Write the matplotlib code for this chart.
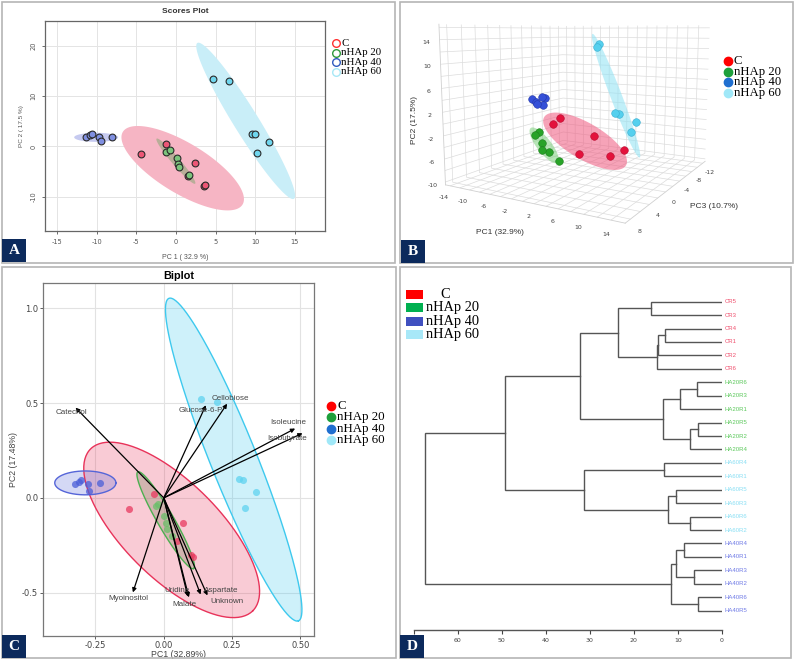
import matplotlib
matplotlib.use('Agg')
import matplotlib.pyplot as plt
import numpy as np
from matplotlib.patches import Rectangle
from matplotlib.lines import Line2D
from mpl_toolkits.mplot3d.art3d import Poly3DCollection

plt.rcParams['axes.unicode_minus'] = False
W, H = 794, 661
fig = plt.figure(figsize=(W / 100, H / 100), dpi=100)
fig.patch.set_facecolor('white')

def axes_px(l, t, r, b, **kw):
    return fig.add_axes([l / W, 1 - b / H, (r - l) / W, (b - t) / H], **kw)

def fxy(px, py):
    return px / W, 1 - py / H

SERIF = ['Liberation Serif', 'DejaVu Serif']
SANS = ['Liberation Sans', 'DejaVu Sans']
groups = ['C', 'nHAp 20', 'nHAp 40', 'nHAp 60']

# ---------------- Panel A / B data (PC scores) ----------------
PC1 = {
    'C': [-4.4, -1.2, 2.45, 1.5, 3.6, 3.7],
    'nHAp 20': [-1.2, -0.8, 0.1, 0.3, 0.35, 1.65],
    'nHAp 40': [-11.3, -10.8, -10.6, -9.7, -9.5, -8.1],
    'nHAp 60': [4.7, 6.7, 9.55, 9.95, 11.7, 10.2],
}
PC2 = {
    'C': [-1.5, 0.4, -3.3, -5.9, -7.8, -7.7],
    'nHAp 20': [-1.2, -0.7, -2.4, -3.5, -4.1, -5.6],
    'nHAp 40': [1.9, 2.3, 2.4, 1.9, 1.0, 1.9],
    'nHAp 60': [13.3, 12.9, 2.5, 2.4, 0.8, -1.3],
}
PC3 = {
    'C': [-0.4, 1.4, -1.5, 0.6, -7.3, -3.7],
    'nHAp 20': [5.9, 5.6, 5.9, 6.1, 5.0, 4.5],
    'nHAp 40': [-5.3, -2.1, -3.9, -2.0, -3.2, -0.8],
    'nHAp 60': [0.1, 2.8, 2.6, 2.4, 0.9, 0.0],
}
A_ell_center = {'C': (0.86, -4.33), 'nHAp 20': (0.0, -2.93), 'nHAp 40': (-10.05, 1.8), 'nHAp 60': (8.8, 5.07)}
A_ell_u = {'C': (7.55, -7.2), 'nHAp 20': (2.43, -4.47), 'nHAp 40': (2.77, 0.0), 'nHAp 60': (6.09, -15.47)}
A_ell_v = {'C': (-1.62, -4.29), 'nHAp 20': (-0.38, -0.52), 'nHAp 40': (0.0, 0.9), 'nHAp 60': (-1.32, -1.31)}
A_xticks = [-15, -10, -5, 0, 5, 10, 15]
A_yticks = [-10, 0, 10, 20]
B_ell_major = {'C': 1.5, 'nHAp 20': 1.6, 'nHAp 60': 1.55}
B_ell_minor = {'C': 4.0, 'nHAp 20': 2.6, 'nHAp 60': 2.6}

# ---------------- Panel C data (Biplot) ----------------
C_x = {
    'C': [-0.034, -0.126, 0.071, 0.048, 0.106, 0.100],
    'nHAp 20': [-0.02, -0.03, 0.0, 0.008, 0.012, 0.03],
    'nHAp 40': [-0.324, -0.31, -0.302, -0.277, -0.272, -0.233],
    'nHAp 60': [0.138, 0.196, 0.275, 0.289, 0.339, 0.299],
}
C_y = {
    'C': [0.018, -0.06, -0.13, -0.227, -0.311, -0.30],
    'nHAp 20': [-0.03, -0.045, -0.095, -0.135, -0.165, -0.2],
    'nHAp 40': [0.074, 0.085, 0.095, 0.074, 0.037, 0.077],
    'nHAp 60': [0.524, 0.506, 0.098, 0.093, 0.032, -0.053],
}
C_ell_center = {'C': (0.029, -0.169), 'nHAp 20': (0.007, -0.118), 'nHAp 40': (-0.287, 0.079), 'nHAp 60': (0.256, 0.202)}
C_ell_u = {'C': (0.297, -0.427), 'nHAp 20': (0.102, -0.255), 'nHAp 40': (0.112, 0.0), 'nHAp 60': (0.237, -0.851)}
C_ell_v = {'C': (0.124, 0.179), 'nHAp 20': (0.026, 0.022), 'nHAp 40': (0.0, 0.063), 'nHAp 60': (0.079, 0.046)}
loading_names = ['Catechol', 'Glucose-6-P', 'Cellobiose', 'Isoleucine', 'Isobutyrate',
                 'Myoinositol', 'Uridine', 'Malate', 'Aspartate', 'Unknown']
loading_x = [-0.323, 0.154, 0.232, 0.481, 0.508, -0.113, 0.088, 0.092, 0.135, 0.16]
loading_y = [0.476, 0.489, 0.497, 0.366, 0.341, -0.499, -0.52, -0.525, -0.51, -0.515]
label_x = [-0.337, 0.137, 0.243, 0.457, 0.45, -0.128, 0.049, 0.076, 0.21, 0.232]
label_y = [0.448, 0.462, 0.527, 0.397, 0.313, -0.532, -0.49, -0.561, -0.49, -0.548]

# ---------------- Panel D data (dendrogram) ----------------
leaves = ['CR5', 'CR3', 'CR4', 'CR1', 'CR2', 'CR6',
          'HA20R6', 'HA20R3', 'HA20R1', 'HA20R5', 'HA20R2', 'HA20R4',
          'HA60R4', 'HA60R1', 'HA60R5', 'HA60R3', 'HA60R6', 'HA60R2',
          'HA40R4', 'HA40R1', 'HA40R3', 'HA40R2', 'HA40R6', 'HA40R5']
merge_a = ['CR5', 'CR4', '#1', '#2', '#0', 'HA20R6', '#5', 'HA20R5', '#7', '#6', '#4',
           'HA60R4', 'HA60R5', 'HA60R6', '#12', '#11', '#10', 'HA40R4', 'HA40R3', '#17', 'HA40R6', '#19', '#16']
merge_b = ['CR3', 'CR1', 'CR2', 'CR6', '#3', 'HA20R3', 'HA20R1', 'HA20R2', 'HA20R4', '#8', '#9',
           'HA60R1', 'HA60R3', 'HA60R2', '#13', '#14', '#15', 'HA40R1', 'HA40R2', '#18', 'HA40R5', '#20', '#21']
merge_h = [16.1, 12.8, 14.4, 14.8, 23.5, 5.7, 9.5, 5.3, 7.1, 13.3, 32.3,
           13.1, 10.4, 7.2, 12.2, 31.3, 49.4, 8.6, 6.2, 10.4, 5.5, 11.6, 67.6]
D_xticks = [70, 60, 50, 40, 30, 20, 10, 0]
D_xticklabels = ['', '60', '50', '40', '30', '20', '10', '0']

# ---------------- colours ----------------
A_fill = {'C': '#f6b5c4', 'nHAp 20': '#b9ad98', 'nHAp 40': '#c6caf0', 'nHAp 60': '#c9eef8'}
A_pt = {'C': '#ec5676', 'nHAp 20': '#7cc47c', 'nHAp 40': '#7f8fe0', 'nHAp 60': '#6fd6ee'}
A_leg = {'C': '#ff3030', 'nHAp 20': '#2e9a3a', 'nHAp 40': '#2f5bbf', 'nHAp 60': '#a8e8f6'}
B_col = {'C': '#e3123c', 'nHAp 20': '#28a328', 'nHAp 40': '#3550d8', 'nHAp 60': '#55d0ee'}
B_edge = {'C': '#b80c30', 'nHAp 20': '#1d7f1d', 'nHAp 40': '#2438a8', 'nHAp 60': '#3aaed0'}
B_fill = {'C': '#f0587e', 'nHAp 20': '#7cd07c', 'nHAp 60': '#8ee2f4'}
B_leg = {'C': '#ff0000', 'nHAp 20': '#1ea03c', 'nHAp 40': '#1f6fd0', 'nHAp 60': '#a0e8f8'}
C_edge = {'C': '#e8335a', 'nHAp 20': '#4caf50', 'nHAp 40': '#5565d8', 'nHAp 60': '#3ec9ee'}
C_pt = {'C': '#e83a60', 'nHAp 20': '#6abf69', 'nHAp 40': '#4a5ed8', 'nHAp 60': '#5fd3f0'}
D_leg = {'C': '#ff0000', 'nHAp 20': '#00b050', 'nHAp 40': '#4050c0', 'nHAp 60': '#a8e8f8'}
D_lab = {'CR': '#f0506e', 'HA20': '#5ac85a', 'HA60': '#88dff4', 'HA40': '#6f7ae6'}

def ellipse_xy(c, u, v, n=200):
    t = np.linspace(0, 2 * np.pi, n)
    return (c[0] + u[0] * np.cos(t) + v[0] * np.sin(t),
            c[1] + u[1] * np.cos(t) + v[1] * np.sin(t))

# =============== Panel A ===============
axA = axes_px(45, 21, 325, 231)
for g in ['C', 'nHAp 60', 'nHAp 40', 'nHAp 20']:
    ex, ey = ellipse_xy(A_ell_center[g], A_ell_u[g], A_ell_v[g])
    axA.fill(ex, ey, color=A_fill[g], lw=0, zorder=1)
for g in groups:
    axA.scatter(PC1[g], PC2[g], s=24, c=A_pt[g], edgecolors='#2a2a2a', linewidths=0.8, zorder=3)
axA.set_xlim(-16.5, 18.8)
axA.set_ylim(-16.8, 24.9)
axA.set_xticks(A_xticks)
axA.set_yticks(A_yticks)
axA.grid(True, color='#e4e4e4', lw=0.7)
axA.set_axisbelow(True)
axA.tick_params(labelsize=4.8, colors='#555555', length=2.5, width=0.6)
for lab in axA.get_yticklabels():
    lab.set_rotation(90)
    lab.set_va('center')
for s in axA.spines.values():
    s.set_color('#666666')
    s.set_linewidth(0.9)
axA.set_title('Scores Plot', fontsize=6, fontweight='bold', pad=6, family=SANS, color='#333333')
axA.set_xlabel('PC 1 ( 32.9 %)', fontsize=5, color='#555555', labelpad=6, family=SANS)
axA.set_ylabel('PC 2 ( 17.5 %)', fontsize=4.6, color='#555555', labelpad=5, family=SANS)
for i, g in enumerate(groups):
    y = 43.3 + i * 9.4
    fig.add_artist(Line2D([336 / W], [1 - y / H], marker='o', ms=5.5, mfc='none',
                          mec=A_leg[g], mew=1.0, transform=fig.transFigure))
    fig.text(341 / W, 1 - y / H, g, fontsize=7.8, family=SERIF, va='center', ha='left')

# =============== Panel B (3D) ===============
axB = fig.add_axes([412.5 / W, 1 - 234.5 / H, 340 / W, 262 / H], projection='3d',
                   computed_zorder=False)
axB.patch.set_alpha(0)
for g in ['nHAp 60', 'C', 'nHAp 20']:
    P = np.c_[PC1[g], PC3[g], PC2[g]]
    c = P.mean(0)
    lam, vec = np.linalg.eigh(np.cov(P.T))
    u = B_ell_major[g] * np.sqrt(lam[2]) * vec[:, 2]
    v = B_ell_minor[g] * np.sqrt(lam[1]) * vec[:, 1]
    t = np.linspace(0, 2 * np.pi, 120)
    pts = c[None, :] + np.cos(t)[:, None] * u[None, :] + np.sin(t)[:, None] * v[None, :]
    poly = Poly3DCollection([pts], facecolor=B_fill[g], alpha=0.55, edgecolor='none', zorder=1)
    axB.add_collection3d(poly)
for g in ['nHAp 60', 'nHAp 40', 'C', 'nHAp 20']:
    axB.scatter(PC1[g], PC3[g], PC2[g], s=30, c=B_col[g], edgecolors=B_edge[g], linewidths=0.4,
                depthshade=False, zorder=3)
axB.set_xlim(-15, 16)
axB.set_ylim(9, -13)
axB.set_zlim(-10.5, 16.5)
axB.set_xticks(np.arange(-14, 16, 2))
axB.set_xticklabels([str(v) if (v + 14) % 4 == 0 else '' for v in range(-14, 16, 2)])
axB.set_yticks(np.arange(-12, 9, 2))
axB.set_yticklabels([str(v) if v % 4 == 0 else '' for v in range(-12, 9, 2)])
axB.set_zticks(np.arange(-10, 17, 2))
axB.set_zticklabels([str(v) if (v + 10) % 4 == 0 else '' for v in range(-10, 17, 2)])
axB.view_init(elev=8, azim=-60)
axB.set_proj_type('persp', focal_length=0.3 * 1.163)
axB.set_box_aspect((1, 1.1, 0.8), zoom=1.163)
try:
    axB.zaxis._axinfo['juggled'] = (1, 2, 0)
except Exception:
    pass
for ax_ in (axB.xaxis, axB.yaxis, axB.zaxis):
    ax_.set_pane_color((1, 1, 1, 0))
    ax_._axinfo['grid']['color'] = '#dcdcdc'
    ax_._axinfo['grid']['linewidth'] = 0.5
    ax_._axinfo['tick']['inward_factor'] = 0.0
    ax_._axinfo['tick']['outward_factor'] = 0.0
    ax_.line.set_color('#d0d0d0')
    ax_.line.set_linewidth(0.6)
axB.tick_params(labelsize=4.5, labelcolor='#444444', pad=-4, length=0, color='#dcdcdc')
fig.text(500 / W, 1 - 232 / H, 'PC1 (32.9%)', fontsize=6, family=SANS, color='#333333', ha='center', va='center')
fig.text(714 / W, 1 - 207 / H, 'PC3 (10.7%)', fontsize=6, family=SANS, color='#333333', ha='center', va='center')
fig.text(414 / W, 1 - 120 / H, 'PC2 (17.5%)', fontsize=6, family=SANS, color='#333333', ha='center', va='center', rotation=90)
for i, g in enumerate(groups):
    y = 61 + i * 10.7
    fig.add_artist(Line2D([728 / W], [1 - y / H], marker='o', ms=6, mfc=B_leg[g], mec=B_leg[g],
                          transform=fig.transFigure))
    fig.text(734 / W, 1 - y / H, g, fontsize=9.2, family=SERIF, va='center', ha='left')

# =============== Panel C (Biplot) ===============
axC = axes_px(43, 283, 314, 636)
for g in ['C', 'nHAp 60', 'nHAp 40', 'nHAp 20']:
    ex, ey = ellipse_xy(C_ell_center[g], C_ell_u[g], C_ell_v[g])
    fc = '#8a8a6a' if g == 'nHAp 20' else C_edge[g]
    axC.fill(ex, ey, color=fc, alpha=0.25 if g != 'nHAp 20' else 0.35, lw=0, zorder=1)
    axC.plot(ex, ey, color=C_edge[g], lw=1.0, zorder=2)
for g in groups:
    axC.scatter(C_x[g], C_y[g], s=26, c=C_pt[g], alpha=0.75, linewidths=0, zorder=3)
for i, name in enumerate(loading_names):
    axC.annotate('', xy=(loading_x[i], loading_y[i]), xytext=(0, 0),
                 arrowprops=dict(arrowstyle='-|>', color='black', lw=0.9, mutation_scale=6,
                                 shrinkA=0, shrinkB=0), zorder=4)
    axC.text(label_x[i], label_y[i], name, fontsize=5.8, color='#444444', family=SANS,
             ha='center', va='center', zorder=5)
axC.set_xlim(-0.442, 0.55)
axC.set_ylim(-0.729, 1.134)
axC.set_xticks([-0.25, 0.0, 0.25, 0.5])
axC.set_xticklabels(['-0.25', '0.00', '0.25', '0.50'])
axC.set_yticks([-0.5, 0.0, 0.5, 1.0])
axC.grid(True, color='#e2e2e2', lw=0.8)
axC.set_axisbelow(True)
axC.tick_params(labelsize=6, colors='#444444', length=2, width=0.6, pad=1.5)
for s in axC.spines.values():
    s.set_color('#777777')
    s.set_linewidth(0.9)
axC.set_title('Biplot', fontsize=7.8, fontweight='bold', pad=3, family=SANS)
axC.set_xlabel('PC1 (32.89%)', fontsize=6.3, color='#444444', labelpad=0, family=SANS)
axC.set_ylabel('PC2 (17.48%)', fontsize=6.3, color='#444444', labelpad=3, family=SANS)
for i, g in enumerate(groups):
    y = 406 + i * 11.4
    fig.add_artist(Line2D([331 / W], [1 - y / H], marker='o', ms=6, mfc=B_leg[g], mec=B_leg[g],
                          transform=fig.transFigure))
    fig.text(337 / W, 1 - y / H, g, fontsize=9.3, family=SERIF, va='center', ha='left')

# =============== Panel D (dendrogram) ===============
axD = axes_px(414, 290, 721.7, 630)
pos = {name: i for i, name in enumerate(leaves)}
hgt = {name: 0.0 for name in leaves}
for k, (a, b, h) in enumerate(zip(merge_a, merge_b, merge_h)):
    ya, yb = pos[a], pos[b]
    axD.plot([hgt[a], h, h, hgt[b]], [ya, ya, yb, yb], color='#555555', lw=1.0, solid_joinstyle='miter')
    pos['#%d' % k] = (ya + yb) / 2
    hgt['#%d' % k] = h
for i, name in enumerate(leaves):
    key = 'CR' if name.startswith('CR') else name[:4]
    axD.text(-0.75, i, name, fontsize=4.3, color=D_lab[key], family=SANS, ha='left', va='center', clip_on=False)
axD.set_xlim(70, 0)
axD.set_ylim(24.44, -0.87)
axD.set_xticks(D_xticks)
axD.set_xticklabels(D_xticklabels)
axD.set_yticks([])
for side in ('top', 'right', 'left'):
    axD.spines[side].set_visible(False)
axD.spines['bottom'].set_color('#555555')
axD.spines['bottom'].set_linewidth(1.0)
axD.tick_params(axis='x', labelsize=4.5, colors='#444444', length=3, width=0.8, pad=3)
for i, g in enumerate(groups):
    y = 294.5 + i * 13.4
    fig.add_artist(Rectangle(fxy(406, y + 4.5), 17 / W, 9 / H, transform=fig.transFigure,
                             facecolor=D_leg[g], edgecolor='none'))
    if g == 'C':
        fig.text(445 / W, 1 - y / H, g, fontsize=10.4, family=SERIF, va='center', ha='center')
    else:
        fig.text(426 / W, 1 - y / H, g, fontsize=10.4, family=SERIF, va='center', ha='left')

# =============== Borders & badges ===============
for (l, t, r, b) in [(2, 2, 395, 263), (400, 2, 793, 263), (2, 267, 396, 658), (400, 267, 791, 658)]:
    fig.add_artist(Rectangle(fxy(l, b), (r - l) / W, (b - t) / H, transform=fig.transFigure,
                             facecolor='none', edgecolor='#b5b5b5', lw=1.2))
for letter, (l, t) in zip('ABCD', [(2, 239), (401, 240), (2, 635), (400, 635)]):
    fig.add_artist(Rectangle(fxy(l, t + 23), 24 / W, 23 / H, transform=fig.transFigure,
                             facecolor='#0c2a5c', edgecolor='none', zorder=10))
    fig.text((l + 12) / W, 1 - (t + 11.5) / H, letter, fontsize=11, fontweight='bold', family=SERIF,
             color='white', ha='center', va='center', zorder=11)

fig.savefig('out.png', dpi=100)
